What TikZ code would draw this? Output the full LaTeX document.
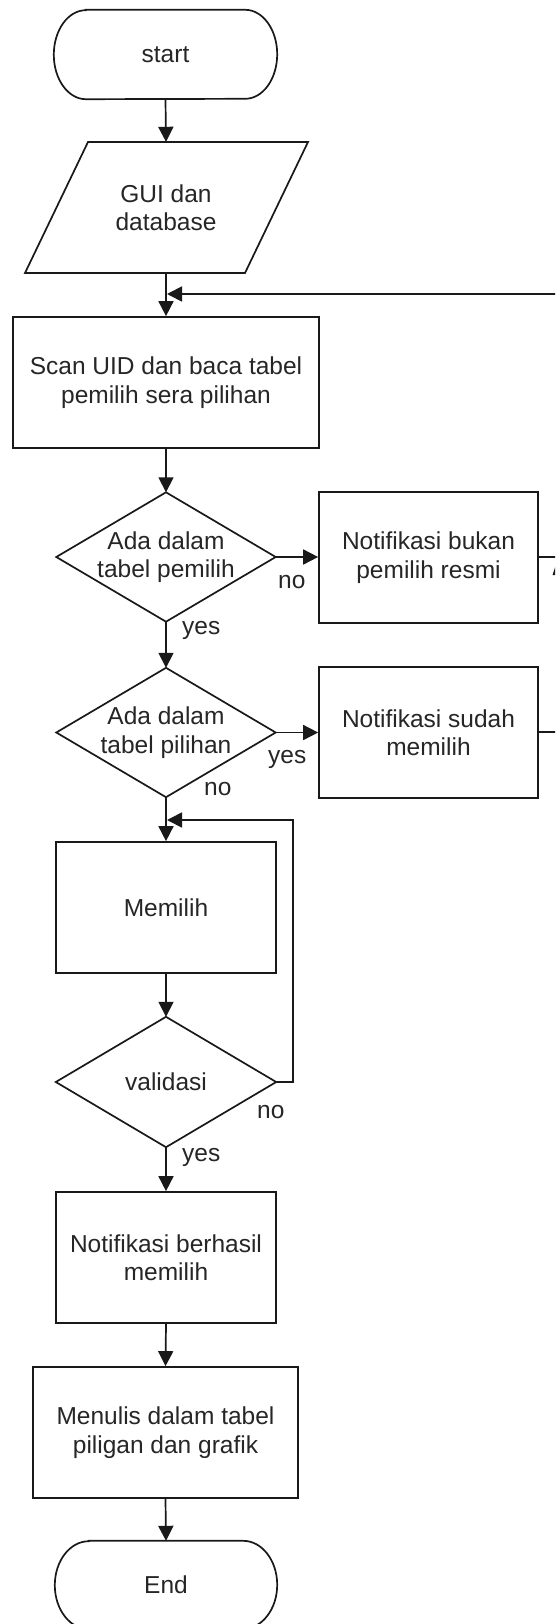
\documentclass[tikz,border=0pt]{standalone}
\usepackage{fontspec}
\setmainfont{Liberation Sans}
\usetikzlibrary{arrows.meta,calc}
\tikzset{
  txt/.style={font=\fontsize{24.5}{28.5}\selectfont, text=black!85, align=center, inner sep=0pt},
  procbox/.style={txt, draw=black!90, line width=1.7pt, rectangle, minimum height=131pt},
  holder/.style={txt, rectangle, draw=none},
  outline/.style={draw=black!90, line width=1.7pt, line join=miter},
  flow/.style={draw=black!90, line width=1.7pt, -{Triangle[width=15pt,length=15pt]}},
  plain/.style={draw=black!90, line width=1.7pt},
  lbl/.style={font=\fontsize{24.5}{28.5}\selectfont, text=black!85, inner sep=0pt, anchor=base west}
}
\begin{document}
\begin{tikzpicture}[x=1pt,y=-1pt]
\useasboundingbox (0,0) rectangle (555,1624);
\fill[white] (0,0) rectangle (555,1624);
\clip (0,0) rectangle (555,1624);

% terminals
\node[holder, minimum width=223pt, minimum height=89pt] (start) at (165.5,54.5) {start};
\draw[outline] ([xshift=32pt]start.north west) -- ([xshift=-32pt]start.north east)
  arc[start angle=90, end angle=-90, x radius=32pt, y radius=44.5pt]
  -- ([xshift=32pt]start.south west)
  arc[start angle=270, end angle=90, x radius=32pt, y radius=44.5pt] -- cycle;

% input/output
\node[holder, minimum width=220pt, minimum height=131pt] (gui) at (166,207.5) {GUI dan\\database};
\draw[outline] (88,142) -- (308,142) -- (245,273) -- (25,273) -- cycle;

% process
\node[procbox, minimum width=306pt] (scan) at (166,382.5) {Scan UID dan baca tabel\\pemilih sera pilihan};

% decision 1
\node[holder, minimum width=219pt, minimum height=129pt] (d1) at (166,557) {Ada dalam\\tabel pemilih};
\draw[outline] (d1.north) -- (d1.east) -- (d1.south) -- (d1.west) -- cycle;
\node[procbox, minimum width=219pt] (b1) at (428.5,557.5) {Notifikasi bukan\\pemilih resmi};

% decision 2
\node[holder, minimum width=219pt, minimum height=129pt] (d2) at (166,732.5) {Ada dalam\\tabel pilihan};
\draw[outline] (d2.north) -- (d2.east) -- (d2.south) -- (d2.west) -- cycle;
\node[procbox, minimum width=219pt] (b2) at (428.5,732.5) {Notifikasi sudah\\memilih};

% memilih
\node[procbox, minimum width=220pt] (mem) at (166,907.5) {Memilih};

% validasi
\node[holder, minimum width=220pt, minimum height=130pt] (val) at (166,1082) {validasi};
\draw[outline] (val.north) -- (val.east) -- (val.south) -- (val.west) -- cycle;

% berhasil
\node[procbox, minimum width=220pt] (ber) at (166,1257.5) {Notifikasi berhasil\\memilih};

% menulis
\node[procbox, minimum width=265pt] (tulis) at (165.5,1432.5) {Menulis dalam tabel\\piligan dan grafik};

% end
\node[holder, minimum width=222pt, minimum height=88pt] (fin) at (166,1585) {End};
\draw[outline] ([xshift=34pt]fin.north west) -- ([xshift=-34pt]fin.north east)
  arc[start angle=90, end angle=-90, x radius=34pt, y radius=44pt]
  -- ([xshift=34pt]fin.south west)
  arc[start angle=270, end angle=90, x radius=34pt, y radius=44pt] -- cycle;

% junction coordinates
\coordinate (j1) at (167,294);
\coordinate (r1) at (560,294);
\coordinate (j2) at (167,820);
\coordinate (r2) at (560,557);
\coordinate (r3) at (560,732);

% connectors
\draw[flow] (start.south) -- (gui.north);
\draw[flow] (gui.south) -- (scan.north);
\draw[flow] (r1) -- (j1);
\draw[flow] (scan.south) -- (d1.north);
\draw[flow] (d1.east) -- (d1.east -| b1.west);
\draw[flow] (d1.south) -- (d2.north);
\draw[flow] (d2.east) -- (d2.east -| b2.west);
\draw[flow] (d2.south) -- (mem.north);
\draw[flow] (val.east) -- ++(17,0) |- (j2);
\draw[flow] (mem.south) -- (val.north);
\draw[flow] (val.south) -- (ber.north);
\draw[flow] (ber.south) -- (tulis.north);
\draw[flow] (tulis.south) -- (fin.north);
\draw[plain] (b1.east |- r2) -- (r2);
\draw[plain] (b2.east |- r3) -- (r3);
\fill[black!90] (552.5,575) -- (555.5,566) -- (555.5,575) -- cycle;

% labels
\node[lbl] (l1) at (278,588) {no};
\node[lbl] (l2) at (182,634) {yes};
\node[lbl] (l3) at (268,763) {yes};
\node[lbl] (l4) at (204,795) {no};
\node[lbl] (l5) at (257,1118) {no};
\node[lbl] (l6) at (182,1161) {yes};
\end{tikzpicture}
\end{document}
